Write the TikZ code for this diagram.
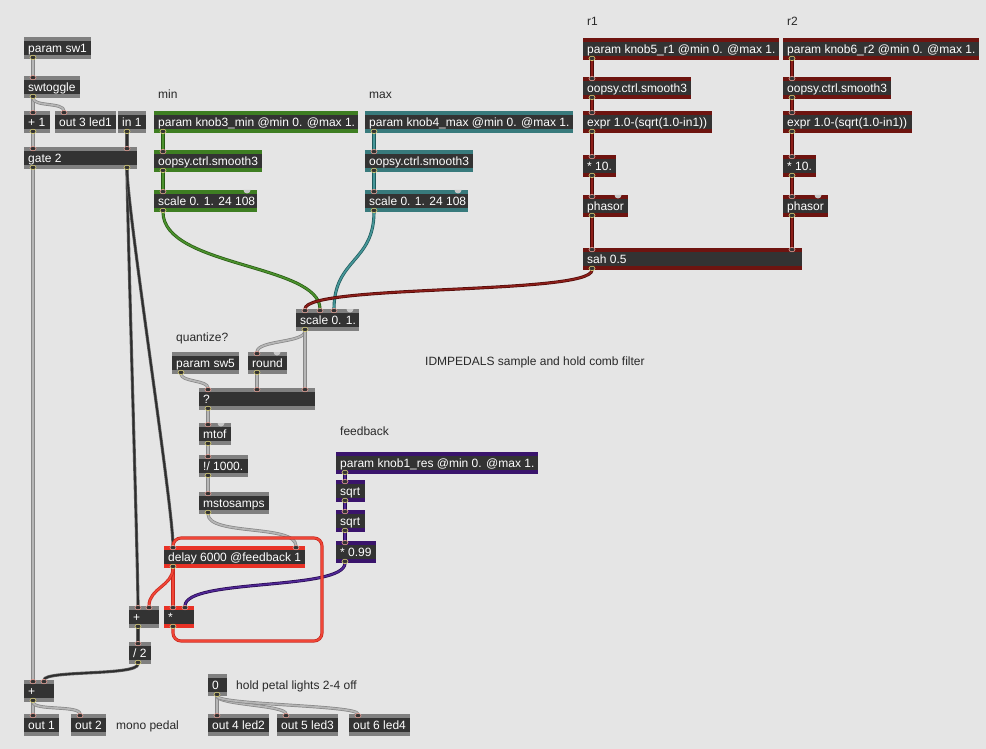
\documentclass[tikz,border=0pt]{standalone}
\usepackage{fontspec}
\setmainfont{Liberation Sans}
\definecolor{bg}{RGB}{229,229,229}
\definecolor{bodyc}{RGB}{51,51,51}
\definecolor{sgray}{RGB}{128,128,128}
\definecolor{sgreen}{RGB}{62,126,34}
\definecolor{steal}{RGB}{56,122,124}
\definecolor{sdred}{RGB}{110,20,16}
\definecolor{spurple}{RGB}{58,20,108}
\definecolor{sred}{RGB}{232,50,38}
\definecolor{labc}{RGB}{40,40,40}
\definecolor{cgo}{RGB}{135,135,135}
\definecolor{cgi}{RGB}{182,182,182}
\definecolor{cdo}{RGB}{95,95,95}
\definecolor{cdi}{RGB}{45,45,45}
\definecolor{cgro}{RGB}{40,90,20}
\definecolor{cgri}{RGB}{75,145,45}
\definecolor{cteo}{RGB}{30,90,92}
\definecolor{ctei}{RGB}{70,150,152}
\definecolor{cdro}{RGB}{80,10,8}
\definecolor{cdri}{RGB}{140,30,25}
\definecolor{cpuo}{RGB}{40,10,80}
\definecolor{cpui}{RGB}{80,40,150}
\definecolor{creo}{RGB}{200,40,30}
\definecolor{crei}{RGB}{240,70,55}
\definecolor{inpc}{RGB}{230,160,150}
\definecolor{outpc}{RGB}{220,210,120}
\definecolor{gportc}{RGB}{200,200,200}
\tikzset{
  mbox/.style={anchor=north west, minimum height=22pt, inner sep=0pt, outer sep=0pt, draw=none,
    path picture={\fill[bodyc] ([yshift=-4pt]path picture bounding box.north west) rectangle ([yshift=4pt]path picture bounding box.south east);}},
  mtext/.style={anchor=base west, inner sep=0pt, text=white, font=\fontsize{12}{14}\selectfont},
  lab/.style={anchor=west, inner sep=0pt, text=labc, text height=8.6pt, text depth=0pt, font=\fontsize{12}{14}\selectfont},
  cord/.style={line width=0.7pt, double distance=1.7pt},
  gcord/.style={cord, draw=cgo, double=cgi},
  dcord/.style={cord, draw=cdo, double=cdi},
  grcord/.style={cord, draw=cgro, double=cgri},
  tecord/.style={cord, draw=cteo, double=ctei},
  drcord/.style={cord, draw=cdro, double=cdri},
  pucord/.style={cord, draw=cpuo, double=cpui},
  record/.style={cord, draw=creo, double=crei},
  inp/.style={fill=bodyc, draw=inpc, line width=0.6pt},
  outp/.style={fill=bodyc, draw=outpc, line width=0.6pt},
  gport/.style={fill=gportc}
}
\newcommand\mobj[6]{%
  \node[mbox, fill=#5, minimum width=#4pt] (#1) at (#2,#3) {};
  \node[mtext] (#1t) at ([xshift=4pt,yshift=-4.3pt]#1.west) {#6};}
\newcommand\pI[2]{\path[inp] ([xshift=#2pt,yshift=-1.6pt]#1.north west) ellipse [x radius=3pt, y radius=2.2pt];}
\newcommand\pO[2]{\path[outp] ([xshift=#2pt,yshift=1.6pt]#1.south west) ellipse [x radius=3pt, y radius=2.2pt];}
\newcommand\pG[2]{\fill[gport] ([xshift=#2pt-3.5pt]#1.north west) arc[start angle=180,end angle=360,radius=3.5pt] -- cycle;}
\begin{document}
\begin{tikzpicture}[x=1pt,y=-1pt]
\fill[bg] (0,0) rectangle (986,749);
\useasboundingbox (0,0) rectangle (986,749);

% labels
\node[lab] (lmin) at (158,94) {min};
\node[lab] (lmax) at (369,94) {max};
\node[lab] (lr1) at (587,21) {r1};
\node[lab] (lr2) at (787,21) {r2};
\node[lab] (lq) at (176,337) {quantize?};
\node[lab] (lidm) at (425,361) {IDMPEDALS sample and hold comb filter};
\node[lab] (lfb) at (340,431) {feedback};
\node[lab] (lhold) at (236,685) {hold petal lights 2-4 off};
\node[lab] (lmono) at (116,725) {mono pedal};

% gray objects
\mobj{sw1}{24}{37}{67}{sgray}{param sw1}
\mobj{swt}{24}{76}{56}{sgray}{swtoggle}
\mobj{plus1}{24}{111}{26}{sgray}{+ 1}
\mobj{out3}{55}{111}{61}{sgray}{out 3 led1}
\mobj{in1}{118}{111}{28}{sgray}{in 1}
\mobj{gate}{24}{147}{113}{sgray}{gate 2}
\mobj{scl}{296}{309}{63}{sgray}{scale 0. 1.}
\mobj{sw5}{172}{352}{67}{sgray}{param sw5}
\mobj{rnd}{248}{352}{39}{sgray}{round}
\mobj{sel}{199}{388}{116}{sgray}{?}
\mobj{mtof}{199}{423}{32}{sgray}{mtof}
\mobj{rdiv}{199}{455}{49}{sgray}{!/ 1000.}
\mobj{mst}{199}{492}{70}{sgray}{mstosamps}
\mobj{plusm}{129}{606}{30}{sgray}{+}
\mobj{half}{129}{642}{22}{sgray}{/ 2}
\mobj{plusb}{24}{680}{30}{sgray}{+}
\mobj{out1}{24}{714}{35}{sgray}{out 1}
\mobj{out2}{71}{714}{35}{sgray}{out 2}
\mobj{zero}{208}{674}{19}{sgray}{0}
\mobj{out4}{208}{714}{61}{sgray}{out 4 led2}
\mobj{out5}{277}{714}{61}{sgray}{out 5 led3}
\mobj{out6}{349}{714}{61}{sgray}{out 6 led4}
% green
\mobj{kthree}{154}{111}{204}{sgreen}{param knob3\_min @min 0. @max 1.}
\mobj{smthree}{154}{150}{108}{sgreen}{oopsy.ctrl.smooth3}
\mobj{scthree}{154}{190}{103}{sgreen}{scale 0. 1. 24 108}
% teal
\mobj{kfour}{365}{111}{208}{steal}{param knob4\_max @min 0. @max 1.}
\mobj{smfour}{365}{150}{108}{steal}{oopsy.ctrl.smooth3}
\mobj{scfour}{365}{190}{103}{steal}{scale 0. 1. 24 108}
% dark red
\mobj{kfive}{583}{38}{196}{sdred}{param knob5\_r1 @min 0. @max 1.}
\mobj{smfive}{583}{77}{108}{sdred}{oopsy.ctrl.smooth3}
\mobj{exfive}{583}{111}{129}{sdred}{expr 1.0-(sqrt(1.0-in1))}
\mobj{mfive}{583}{155}{33}{sdred}{* 10.}
\mobj{phfive}{583}{195}{45}{sdred}{phasor}
\mobj{sah}{583}{248}{219}{sdred}{sah 0.5}
\mobj{ksix}{783}{38}{196}{sdred}{param knob6\_r2 @min 0. @max 1.}
\mobj{smsix}{783}{77}{108}{sdred}{oopsy.ctrl.smooth3}
\mobj{exsix}{783}{111}{129}{sdred}{expr 1.0-(sqrt(1.0-in1))}
\mobj{msix}{783}{155}{33}{sdred}{* 10.}
\mobj{phsix}{783}{195}{45}{sdred}{phasor}
% purple
\mobj{kone}{336}{452}{202}{spurple}{param knob1\_res @min 0. @max 1.}
\mobj{sqa}{336}{480}{29}{spurple}{sqrt}
\mobj{sqb}{336}{510}{29}{spurple}{sqrt}
\mobj{mnn}{336}{541}{40}{spurple}{* 0.99}
% red
\mobj{dly}{164}{546}{141}{sred}{delay 6000 @feedback 1}
\mobj{mul}{164}{606}{30}{sred}{*}

% cords gray / dark
\draw[gcord] ([xshift=9pt]sw1.south west) -- ([xshift=9pt]swt.north west);
\draw[gcord] ([xshift=9pt]swt.south west) -- ([xshift=9pt]plus1.north west);
\draw[gcord] ([xshift=9pt]swt.south west) .. controls +(0,9) and +(0,-9) .. ([xshift=9pt]out3.north west);
\draw[gcord] ([xshift=9pt]plus1.south west) -- ([xshift=9pt]gate.north west);
\draw[dcord] ([xshift=9pt]in1.south west) -- ([xshift=103pt]gate.north west);
\draw[gcord] ([xshift=9pt]gate.south west) -- ([xshift=9pt]plusb.north west);
\draw[dcord] ([xshift=103pt]gate.south west) .. controls +(0,40) and +(0,-40) .. ([xshift=9pt]plusm.north west);
\draw[dcord] ([xshift=103pt]gate.south west) .. controls +(0,40) and +(0,-40) .. ([xshift=9pt]dly.north west);
% green
\draw[grcord] ([xshift=9pt]kthree.south west) -- ([xshift=9pt]smthree.north west);
\draw[grcord] ([xshift=9pt]smthree.south west) -- ([xshift=9pt]scthree.north west);
\draw[grcord] ([xshift=9pt]scthree.south west) .. controls +(0,55) and +(0,-45) .. ([xshift=24pt]scl.north west);
% teal
\draw[tecord] ([xshift=9pt]kfour.south west) -- ([xshift=9pt]smfour.north west);
\draw[tecord] ([xshift=9pt]smfour.south west) -- ([xshift=9pt]scfour.north west);
\draw[tecord] ([xshift=9pt]scfour.south west) .. controls +(0,50) and +(0,-50) .. ([xshift=38pt]scl.north west);
% dark red
\draw[drcord] ([xshift=9pt]kfive.south west) -- ([xshift=9pt]smfive.north west);
\draw[drcord] ([xshift=9pt]smfive.south west) -- ([xshift=9pt]exfive.north west);
\draw[drcord] ([xshift=9pt]exfive.south west) -- ([xshift=9pt]mfive.north west);
\draw[drcord] ([xshift=9pt]mfive.south west) -- ([xshift=9pt]phfive.north west);
\draw[drcord] ([xshift=9pt]phfive.south west) -- ([xshift=9pt]sah.north west);
\draw[drcord] ([xshift=9pt]ksix.south west) -- ([xshift=9pt]smsix.north west);
\draw[drcord] ([xshift=9pt]smsix.south west) -- ([xshift=9pt]exsix.north west);
\draw[drcord] ([xshift=9pt]exsix.south west) -- ([xshift=9pt]msix.north west);
\draw[drcord] ([xshift=9pt]msix.south west) -- ([xshift=9pt]phsix.north west);
\draw[drcord] ([xshift=9pt]phsix.south west) -- ([xshift=209pt]sah.north west);
\draw[drcord] ([xshift=9pt]sah.south west) .. controls +(0,25) and +(0,-25) .. ([xshift=9pt]scl.north west);
% quantize section
\draw[gcord] ([xshift=9pt]scl.south west) .. controls +(0,12) and +(0,-12) .. ([xshift=9pt]rnd.north west);
\draw[gcord] ([xshift=9pt]scl.south west) -- ([xshift=106pt]sel.north west);
\draw[gcord] ([xshift=9pt]sw5.south west) .. controls +(0,8) and +(0,-8) .. ([xshift=9pt]sel.north west);
\draw[gcord] ([xshift=9pt]rnd.south west) -- ([xshift=58pt]sel.north west);
\draw[gcord] ([xshift=9pt]sel.south west) -- ([xshift=9pt]mtof.north west);
\draw[gcord] ([xshift=9pt]mtof.south west) -- ([xshift=9pt]rdiv.north west);
\draw[gcord] ([xshift=9pt]rdiv.south west) -- ([xshift=9pt]mst.north west);
\draw[gcord] ([xshift=9pt]mst.south west) .. controls +(0,22) and +(0,-22) .. ([xshift=132pt]dly.north west);
% purple
\draw[pucord] ([xshift=9pt]kone.south west) -- ([xshift=9pt]sqa.north west);
\draw[pucord] ([xshift=9pt]sqa.south west) -- ([xshift=9pt]sqb.north west);
\draw[pucord] ([xshift=9pt]sqb.south west) -- ([xshift=9pt]mnn.north west);
\draw[pucord] ([xshift=9pt]mnn.south west) .. controls +(0,28) and +(0,-28) .. ([xshift=21pt]mul.north west);
% red
\draw[record] ([xshift=9pt]dly.south west) -- ([xshift=9pt]mul.north west);
\draw[record] ([xshift=9pt]dly.south west) .. controls +(0,18) and +(0,-18) .. ([xshift=20pt]plusm.north west);
\coordinate (lpbr) at (322,641);
\coordinate (lptr) at (322,538);
\draw[record, rounded corners=8pt] ([xshift=9pt]mul.south west) |- (lpbr) -- (lptr) -| ([xshift=9pt]dly.north west);
% bottom
\draw[dcord] ([xshift=9pt]plusm.south west) -- ([xshift=9pt]half.north west);
\draw[dcord] ([xshift=9pt]half.south west) .. controls +(0,12) and +(0,-10) .. ([xshift=20pt]plusb.north west);
\draw[gcord] ([xshift=9pt]plusb.south west) -- ([xshift=9pt]out1.north west);
\draw[gcord] ([xshift=9pt]plusb.south west) .. controls +(0,9) and +(0,-9) .. ([xshift=9pt]out2.north west);
\draw[gcord] ([xshift=9pt]zero.south west) -- ([xshift=9pt]out4.north west);
\draw[gcord] ([xshift=9pt]zero.south west) .. controls +(0,9) and +(0,-9) .. ([xshift=9pt]out5.north west);
\draw[gcord] ([xshift=9pt]zero.south west) .. controls +(0,9) and +(0,-9) .. ([xshift=9pt]out6.north west);

% ports
\pO{sw1}{9} \pI{swt}{9} \pO{swt}{9} \pI{plus1}{9} \pO{plus1}{9} \pI{out3}{9} \pO{in1}{9}
\pI{gate}{9} \pI{gate}{103} \pO{gate}{9} \pO{gate}{103}
\pO{kthree}{9} \pI{smthree}{9} \pO{smthree}{9} \pI{scthree}{9} \pO{scthree}{9} \pG{scthree}{93}
\pO{kfour}{9} \pI{smfour}{9} \pO{smfour}{9} \pI{scfour}{9} \pO{scfour}{9} \pG{scfour}{93}
\pO{kfive}{9} \pI{smfive}{9} \pO{smfive}{9} \pI{exfive}{9} \pO{exfive}{9} \pI{mfive}{9} \pO{mfive}{9}
\pI{phfive}{9} \pO{phfive}{9} \pG{phfive}{35}
\pO{ksix}{9} \pI{smsix}{9} \pO{smsix}{9} \pI{exsix}{9} \pO{exsix}{9} \pI{msix}{9} \pO{msix}{9}
\pI{phsix}{9} \pO{phsix}{9} \pG{phsix}{35}
\pI{sah}{9} \pI{sah}{209} \pO{sah}{9}
\pI{scl}{9} \pI{scl}{24} \pI{scl}{38} \pG{scl}{54} \pO{scl}{9}
\pO{sw5}{9} \pI{rnd}{9} \pG{rnd}{29} \pO{rnd}{9}
\pI{sel}{9} \pI{sel}{58} \pI{sel}{106} \pO{sel}{9}
\pI{mtof}{9} \pG{mtof}{22} \pO{mtof}{9} \pI{rdiv}{9} \pO{rdiv}{9} \pI{mst}{9} \pO{mst}{9}
\pO{kone}{9} \pI{sqa}{9} \pO{sqa}{9} \pI{sqb}{9} \pO{sqb}{9} \pI{mnn}{9} \pO{mnn}{9}
\pI{dly}{9} \pI{dly}{132} \pO{dly}{9}
\pI{mul}{9} \pI{mul}{21} \pO{mul}{9}
\pI{plusm}{9} \pI{plusm}{20} \pO{plusm}{9}
\pI{half}{9} \pO{half}{9}
\pI{plusb}{9} \pI{plusb}{20} \pO{plusb}{9}
\pI{out1}{9} \pI{out2}{9} \pO{zero}{9} \pI{out4}{9} \pI{out5}{9} \pI{out6}{9}
\end{tikzpicture}
\end{document}
